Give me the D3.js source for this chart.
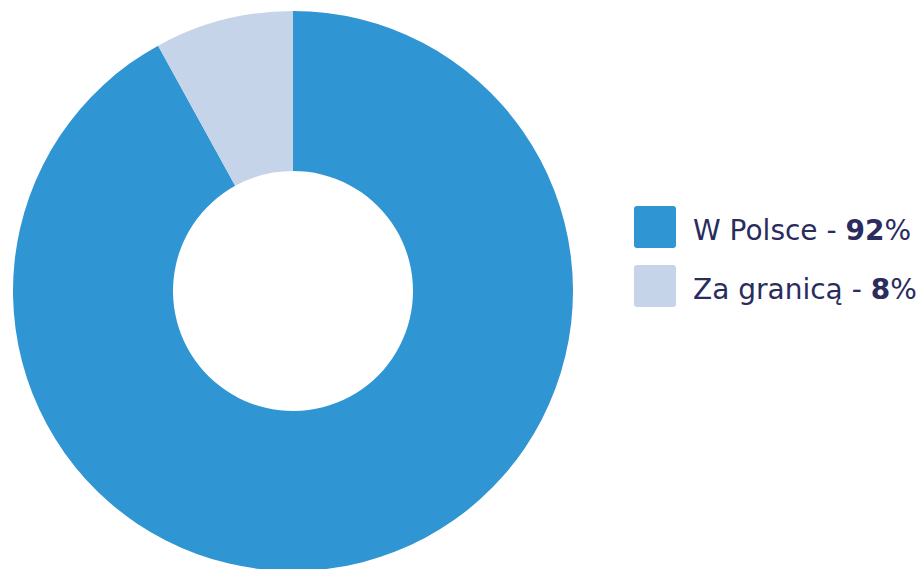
<!DOCTYPE html>
<html><head><meta charset="utf-8">
<script src="https://cdn.jsdelivr.net/npm/d3@7"></script>
<style>body{margin:0;background:#fff}svg{display:block}</style>
</head><body>
<svg id="c" width="922" height="569"></svg>
<script>
const categories = ["W Polsce", "Za granicą"];
const values = [92, 8];
const valueLabels = ["92", "8"];
const colors = ["#3095d3", "#c5d4e8"];

const svg = d3.select("#c");
const cx = 293, cy = 291, rOuter = 280, rInner = 120;
const pie = d3.pie().sort(null).value(d => d)(values);
const arc = d3.arc().innerRadius(rInner).outerRadius(rOuter);
const g = svg.append("g").attr("transform", `translate(${cx},${cy})`);
g.selectAll("path").data(pie).join("path")
  .attr("d", arc).attr("fill", (d, i) => colors[i]);

const legend = svg.append("g").attr("transform", "translate(634,206)");
const item = legend.selectAll("g").data(categories).join("g")
  .attr("transform", (d, i) => `translate(0,${i * 59})`);
item.append("rect").attr("width", 42).attr("height", 42).attr("rx", 3)
  .attr("fill", (d, i) => colors[i]);
const t = item.append("text").attr("x", 59).attr("y", 34)
  .attr("font-family", "'DejaVu Sans', sans-serif").attr("font-size", 28)
  .attr("fill", "#2a2c5e");
t.append("tspan").text(d => d + " - ");
t.append("tspan").attr("font-weight", "bold").text((d, i) => valueLabels[i]);
t.append("tspan").text("%");
</script>
</body></html>
